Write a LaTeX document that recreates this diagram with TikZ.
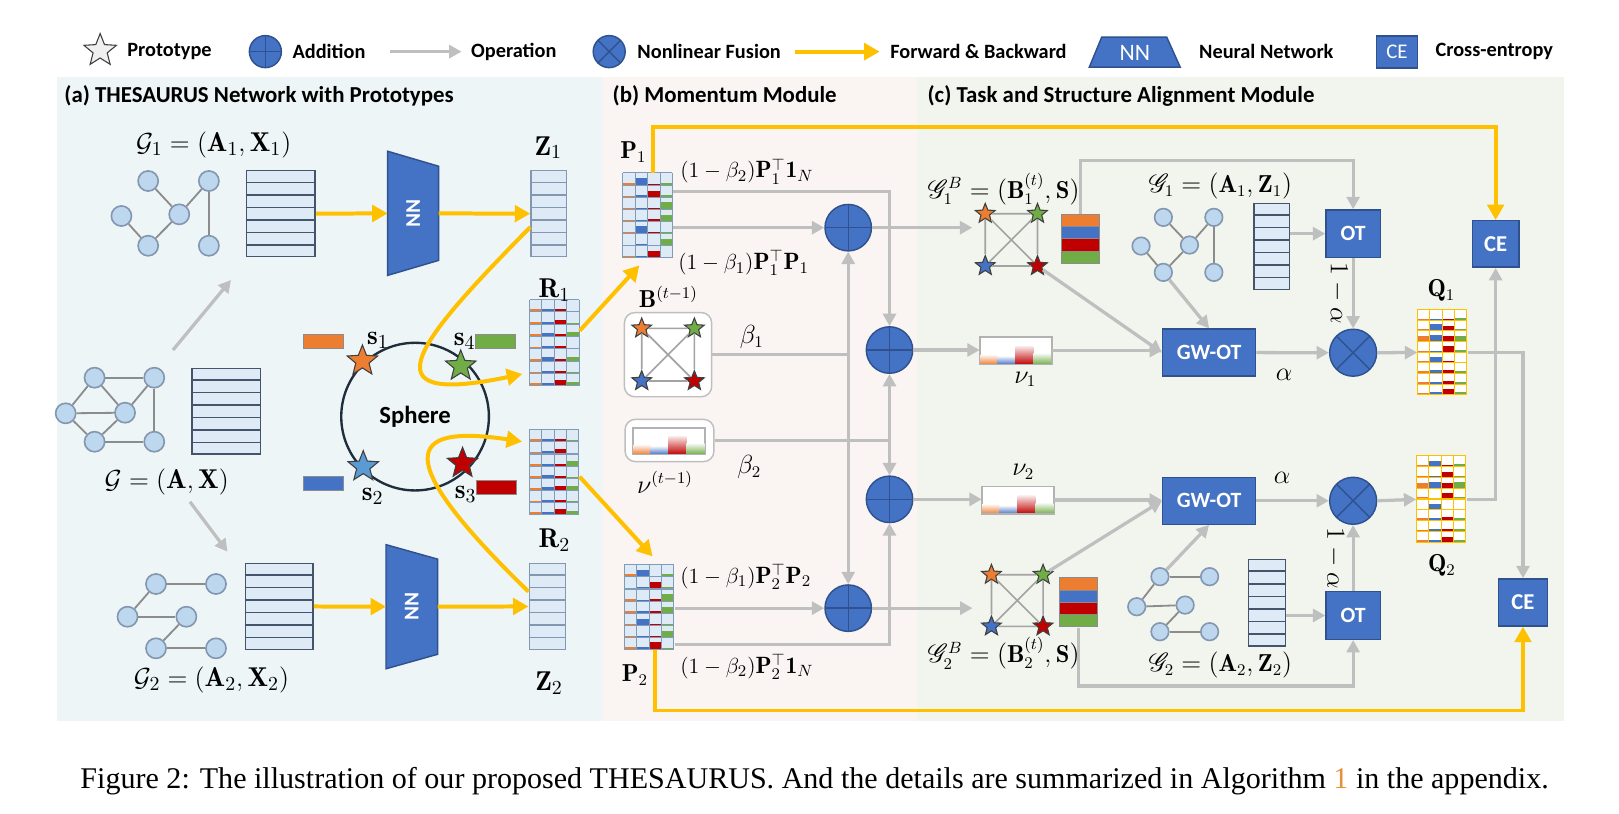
\documentclass[tikz,border=0pt]{standalone}
\usepackage{fontspec}
\setsansfont{Carlito}
\newfontfamily\capfont{Liberation Serif}
\usepackage{amsmath}
\usepackage{mathrsfs}
\usepackage{graphicx}
\usetikzlibrary{calc}
\usetikzlibrary{shapes.geometric}
\usetikzlibrary{arrows.meta}

\definecolor{bgA}{HTML}{EDF5F7}
\definecolor{bgB}{HTML}{FAF4F3}
\definecolor{bgC}{HTML}{F1F5EE}
\definecolor{nnblue}{HTML}{4472C4}
\definecolor{nnedge}{HTML}{2F528F}
\definecolor{opgray}{HTML}{BFBFBF}
\definecolor{fwyellow}{HTML}{FFC000}
\definecolor{porange}{HTML}{ED7D31}
\definecolor{pblue}{HTML}{4472C4}
\definecolor{pred}{HTML}{C00000}
\definecolor{pgreen}{HTML}{70AD47}
\definecolor{sblue}{HTML}{5B9BD5}
\definecolor{nodefill}{HTML}{BDD7EE}
\definecolor{nodeedge}{HTML}{8497B0}
\definecolor{matfill}{HTML}{DEEBF7}
\definecolor{matline}{HTML}{44546A}
\definecolor{zline}{HTML}{8497B0}
\definecolor{gridblue}{HTML}{7F9DB9}
\definecolor{edgegray}{HTML}{8C8C8C}
\definecolor{spherec}{HTML}{1F2D3D}
\definecolor{capnum}{HTML}{E69138}

\tikzset{
  op/.style={draw=opgray, line width=1.8pt, -{Triangle[length=2.4mm, width=2.5mm]}},
  opline/.style={draw=opgray, line width=1.8pt},
  fwd/.style={draw=fwyellow, line width=2.2pt, -{Triangle[length=3mm, width=3.2mm]}},
  fwdline/.style={draw=fwyellow, line width=2.2pt},
  addop/.style={circle, draw=nnedge, fill=nnblue, line width=0.8pt, minimum size=9mm, inner sep=0pt,
    path picture={\draw[nnedge, line width=0.8pt] (path picture bounding box.north) -- (path picture bounding box.south)
      (path picture bounding box.west) -- (path picture bounding box.east);}},
  fuseop/.style={circle, draw=nnedge, fill=nnblue, line width=0.8pt, minimum size=9.1mm, inner sep=0pt,
    path picture={\draw[nnedge, line width=0.8pt] (path picture bounding box.north west) -- (path picture bounding box.south east)
      (path picture bounding box.north east) -- (path picture bounding box.south west);}},
  bluebox/.style={draw=nnedge, fill=nnblue, line width=0.8pt, text=white, inner sep=0pt,
    font=\sffamily\bfseries\fontsize{12}{14}\selectfont},
  nnbox/.style={draw=nnedge, fill=nnblue, line width=0.8pt},
  nntext/.style={text=white, font=\sffamily\bfseries\fontsize{11.6}{13}\selectfont, inner sep=0pt},
  proto/.style={star, star points=5, star point ratio=2.3, draw=black!75, line width=0.6pt, inner sep=0pt, minimum size=#1},
  gnode/.style={circle, draw=nodeedge, fill=nodefill, line width=0.9pt, inner sep=0pt, minimum size=3.9mm},
  gedge/.style={draw=edgegray, line width=1pt},
  sqedge/.style={draw=edgegray!80, line width=0.9pt},
  featbox/.style={draw=matline, fill=matfill, line width=0.8pt, inner sep=0pt},
  zbox/.style={draw=zline, fill=matfill, line width=0.8pt, inner sep=0pt},
  softbox/.style={draw=black!25, fill=white!96!bgB, rounded corners=2mm, line width=0.8pt, inner sep=0pt},
  nuframe/.style={draw=black!30, fill=white, line width=0.6pt, inner sep=0pt},
  colbar/.style={draw=black!45, line width=0.5pt, inner sep=0pt, minimum width=7.8mm, minimum height=2.7mm},
  legtext/.style={font=\sffamily\bfseries\fontsize{11.2}{13}\selectfont, inner sep=0pt},
  titletext/.style={font=\sffamily\bfseries\fontsize{12.6}{15}\selectfont, inner sep=0pt},
  mla/.style={font=\fontsize{15}{18}\selectfont, inner sep=0pt},
  mlb/.style={font=\fontsize{13.5}{16}\selectfont, inner sep=0pt},
  mlc/.style={font=\fontsize{13}{15.5}\selectfont, inner sep=0pt},
}

% row lines of a feature matrix
\newcommand{\hlines}[3]{%
  \pgfmathtruncatemacro\nlast{#2-1}
  \foreach \i in {1,...,\nlast}
    \draw[#3, line width=0.8pt] ($(#1.north west)!\i/#2!(#1.south west)$) -- ($(#1.north east)!\i/#2!(#1.south east)$);}

% assignment matrix: name, centre, rows, row height, cell fill, grid colour, bars
\newcommand{\cmat}[7]{%
  \node[inner sep=0pt, minimum width=9.6mm, minimum height=#3*#4*0.2mm] (#1) at #2 {};
  \begin{scope}[shift={(#1.north west)}]
    \foreach \qa/\qb/\qc/\qd [count=\k from 1] in {#7} {
      \fill[#5] (0,\k*#4-#4) rectangle (48,\k*#4);
      \fill[porange] (0,\k*#4) rectangle (12,\k*#4-\qa*#4);
      \fill[pblue] (12,\k*#4) rectangle (24,\k*#4-\qb*#4);
      \fill[pred] (24,\k*#4) rectangle (36,\k*#4-\qc*#4);
      \fill[pgreen] (36,\k*#4) rectangle (48,\k*#4-\qd*#4);
    }
    \foreach \j in {0,12,24,36,48} \draw[#6, line width=0.6pt] (\j,0) -- (\j,#3*#4);
    \foreach \k in {0,...,#3} \draw[#6, line width=0.6pt] (0,\k*#4) -- (48,\k*#4);
  \end{scope}}

% prototypes on a square
\newcommand{\protosq}[4]{%
  \node[proto=4mm, fill=porange] (#1o) at (#2-#4,#3-#4) {};
  \node[proto=4mm, fill=pgreen] (#1g) at (#2+#4,#3-#4) {};
  \node[proto=4mm, fill=pblue] (#1b) at (#2-#4,#3+#4) {};
  \node[proto=4mm, fill=pred] (#1r) at (#2+#4,#3+#4) {};
  \draw[sqedge] (#1o) -- (#1g) -- (#1r) -- (#1b) -- (#1o) -- (#1r) (#1g) -- (#1b);}

% faded bars of a prototype distribution
\newcommand{\nubars}[1]{%
  \begin{scope}[shift={(#1.south west)}]
    \foreach \cc/\hh [count=\i from 0] in {porange/.35, pblue/.3, pred/.68, pgreen/.4}
      \shade[top color=\cc!10, middle color=\cc!90, bottom color=\cc] (\i*17.3,0) rectangle (\i*17.3+17.3,-\hh*25.9);
  \end{scope}
  \draw[black!30, line width=0.6pt] (#1.south west) rectangle (#1.north east);}

\begin{document}
\begin{tikzpicture}[x=0.2mm, y=-0.2mm]
  \useasboundingbox (0,0) rectangle (1568,788);
  \fill[white] (0,0) rectangle (1568,788);

  % Legend
  \node[proto=6.6mm, fill=gray!12] (lgstar) at (97,49) {};
  \node[legtext, anchor=west] (lgproto) at (123,50) {Prototype};
  \node[addop, minimum size=6.2mm] (lgadd) at (257,50) {};
  \node[legtext, anchor=west] (lgaddt) at (283,50) {Addition};
  \coordinate (lgop1) at (378,50);
  \coordinate (lgop2) at (447,50);
  \draw[op] (lgop1) -- (lgop2);
  \node[legtext, anchor=west] (lgopt) at (456,50) {Operation};
  \node[fuseop, minimum size=6.2mm] (lgfuse) at (590,50) {};
  \node[legtext, anchor=west] (lgfuset) at (617,50) {Nonlinear Fusion};
  \coordinate (lgfw1) at (770,50);
  \coordinate (lgfw2) at (852,50);
  \draw[fwd] (lgfw1) -- (lgfw2);
  \node[legtext, anchor=west] (lgfwt) at (862,50) {Forward \& Backward};
  \draw[nnbox] (1055,65) -- (1067,36) -- (1130,36) -- (1143,65) -- cycle;
  \node[text=white, font=\sffamily\fontsize{13}{15}\selectfont, inner sep=0pt] (lgnn) at (1099,51) {NN};
  \node[legtext, anchor=west] (lgnnt) at (1161,50) {Neural Network};
  \node[bluebox, font=\sffamily\fontsize{11.5}{13}\selectfont, minimum width=8mm, minimum height=6.2mm] (lgce) at (1353,50.5) {CE};
  \node[legtext, anchor=west] (lgcet) at (1390,50) {Cross-entropy};

  % Panel backgrounds
  \fill[bgA] (55,75) rectangle (583,698);
  \fill[bgB] (583,75) rectangle (888,698);
  \fill[bgC] (888,75) rectangle (1515,698);
  \node[titletext, anchor=west] (ttla) at (62,93) {(a) THESAURUS Network with Prototypes};
  \node[titletext, anchor=west] (ttlb) at (593,93) {(b) Momentum Module};
  \node[titletext, anchor=west] (ttlc) at (898,93) {(c) Task and Structure Alignment Module};

  % (a) first view
  \node[mla] (lgr1) at (207,140) {$\mathcal{G}_1=(\mathbf{A}_1,\mathbf{X}_1)$};
  \foreach \n/\x/\y in {a/143.5/175.3, b/202.3/175.3, c/117.6/209.2, d/173.6/207.6, e/143.5/238, f/202.3/238}
    \node[gnode] (gr1\n) at (\x,\y) {};
  \foreach \u/\v in {a/d, d/b, c/e, e/d, b/f}
    \draw[gedge] (gr1\u) -- (gr1\v);
  \node[featbox, minimum width=13.3mm, minimum height=16.66mm] (x1) at (271.9,207) {};
  \hlines{x1}{7}{matline}
  \node[inner sep=0pt, minimum width=9.72mm, minimum height=23.9mm] (nn1) at (400.1,206.6) {};
  \draw[nnbox] (nn1.north west) -- ($(nn1.north east)+(0,14.5)$) -- ($(nn1.south east)+(0,-14.5)$) -- (nn1.south west) -- cycle;
  \node[nntext, rotate=-90] (nn1t) at (nn1) {NN};
  \node[zbox, minimum width=6.9mm, minimum height=16.66mm] (z1) at (531.5,207) {};
  \hlines{z1}{7}{zline}
  \node[mla] (lz1) at (531,143) {$\mathbf{Z}_1$};
  \draw[fwd] (x1) -- (nn1);
  \draw[fwd] (nn1) -- (z1);

  % (a) original graph
  \foreach \n/\x/\y in {a/91.6/365.8, b/149.4/365.8, c/63.6/400.3, d/121.1/399.7, e/91.6/427.8, f/149.4/427.8}
    \node[gnode] (gr0\n) at (\x,\y) {};
  \foreach \u/\v in {a/b, a/c, a/d, b/d, b/f, c/d, c/e, e/d, e/f}
    \draw[gedge] (gr0\u) -- (gr0\v);
  \node[featbox, minimum width=13.3mm, minimum height=16.6mm] (x0) at (219,398.2) {};
  \hlines{x0}{7}{matline}
  \node[mla] (lgr0) at (161.5,466.5) {$\mathcal{G}=(\mathbf{A},\mathbf{X})$};
  \coordinate (aug1s) at (167.5,339);
  \coordinate (aug1e) at (223.7,271.2);
  \draw[op] (aug1s) -- (aug1e);
  \coordinate (aug2s) at (184,486);
  \coordinate (aug2e) at (220.3,534.3);
  \draw[op] (aug2s) -- (aug2e);

  % (a) second view
  \foreach \n/\x/\y in {a/151.1/565.6, b/209.2/565.6, c/123.5/597.3, d/180.5/597.3, e/151.1/627.9, f/209.2/627.9}
    \node[gnode] (gr2\n) at (\x,\y) {};
  \foreach \u/\v in {a/b, a/c, c/d, d/e, e/f}
    \draw[gedge] (gr2\u) -- (gr2\v);
  \node[featbox, minimum width=13.14mm, minimum height=16.66mm] (x2) at (270.5,587.3) {};
  \hlines{x2}{7}{matline}
  \node[mla] (lgr2) at (204.8,658.6) {$\mathcal{G}_2=(\mathbf{A}_2,\mathbf{X}_2)$};
  \node[inner sep=0pt, minimum width=9.84mm, minimum height=23.9mm] (nn2) at (398.8,587.6) {};
  \draw[nnbox] (nn2.north west) -- ($(nn2.north east)+(0,14)$) -- ($(nn2.south east)+(0,-14)$) -- (nn2.south west) -- cycle;
  \node[nntext, rotate=-90] (nn2t) at (nn2) {NN};
  \node[zbox, minimum width=7.06mm, minimum height=16.66mm] (z2) at (530.2,587.3) {};
  \hlines{z2}{7}{zline}
  \node[mla] (lz2) at (531.7,661.8) {$\mathbf{Z}_2$};
  \draw[fwd] (x2) -- (nn2);
  \draw[fwd] (nn2) -- (z2);

  % (a) prototypes on the sphere
  \node[circle, draw=spherec, line width=1.3pt, minimum size=28.6mm, inner sep=0pt,
    font=\sffamily\bfseries\fontsize{13.6}{16}\selectfont] (sphere) at (402,403.5) {Sphere};
  \node[proto=6.2mm, fill=porange] (s1) at (351,349.6) {};
  \node[proto=6.2mm, fill=pgreen] (s4) at (446.2,354.5) {};
  \node[proto=6.2mm, fill=sblue] (s2) at (351.8,452) {};
  \node[proto=6.2mm, fill=pred] (s3) at (448,448.7) {};
  \node[mla] (ls1) at (366,330) {$\mathbf{s}_1$};
  \node[mla] (ls4) at (450,331) {$\mathbf{s}_4$};
  \node[mla] (ls2) at (361,481) {$\mathbf{s}_2$};
  \node[mla] (ls3) at (451,479) {$\mathbf{s}_3$};
  \node[colbar, fill=porange] (cb1) at (313.4,330.6) {};
  \node[colbar, fill=pgreen] (cb4) at (480.1,330.6) {};
  \node[colbar, fill=pblue] (cb2) at (313.4,468.5) {};
  \node[colbar, fill=pred] (cb3) at (480.5,472.5) {};

  % (a) prototype assignments
  \cmat{r1}{(537.2,332.2)}{7}{11.9}{matfill}{gridblue}{.2/.2/.2/.1, .15/.2/.35/.1, .2/.25/.2/.35, .15/.2/.25/.1, .2/.3/.2/.35, .15/.2/.2/.1, .2/.25/.45/.3}
  \node[mla] (lr1) at (537,281) {$\mathbf{R}_1$};
  \cmat{r2}{(537,457.7)}{7}{11.76}{matfill}{gridblue}{.2/.2/.2/.15, .15/.25/.4/.1, .2/.2/.2/.4, .15/.3/.2/.1, .2/.25/.35/.35, .15/.2/.2/.1, .2/.2/.45/.3}
  \node[mla] (lr2) at (537,523) {$\mathbf{R}_2$};
  \draw[fwd] ($(z1.west)+(0,13)$) .. controls (405,330) and (350,395) .. ($(r1.west)+(-7,30)$);
  \draw[fwd] ($(z2.west)+(0,-14.3)$) .. controls (380,445) and (390,410) .. ($(r2.west)+(-7,-30)$);

  % (b) momentum module
  \cmat{p1}{(627.6,209)}{7}{11.76}{matfill}{gridblue}{.15/.55/.1/.15, .1/.2/.55/.15, .15/.1/.15/.6, .1/.15/.2/.55, .15/.6/.1/.15, .1/.15/.1/.55, .15/.2/.6/.1}
  \node[mlb] (lp1) at (613.4,146.9) {$\mathbf{P}_1$};
  \cmat{p2}{(629,588.4)}{7}{11.76}{matfill}{gridblue}{.2/.55/.1/.25, .1/.15/.55/.15, .15/.1/.15/.6, .2/.15/.2/.55, .15/.55/.1/.15, .1/.15/.1/.55, .2/.2/.6/.1}
  \node[mlb] (lp2) at (615,653.8) {$\mathbf{P}_2$};
  \draw[fwd] ($(r1.east)+(0,-12)$) -- ($(p1.south west)+(16,6.5)$);
  \draw[fwd] ($(r2.east)+(0,4)$) -- ($(p2.north)+(3,-8)$);

  \node[mlc, anchor=west] (lp1a) at (658.6,166) {$(1-\beta_2)\mathbf{P}_1^{\top}\mathbf{1}_N$};
  \node[mlc, anchor=west] (lp1b) at (656.6,255) {$(1-\beta_1)\mathbf{P}_1^{\top}\mathbf{P}_1$};
  \node[mlc, anchor=west] (lp2b) at (658.6,558.5) {$(1-\beta_1)\mathbf{P}_2^{\top}\mathbf{P}_2$};
  \node[mlc, anchor=west] (lp2a) at (658.6,645.7) {$(1-\beta_2)\mathbf{P}_2^{\top}\mathbf{1}_N$};

  \node[softbox, minimum width=16.9mm, minimum height=16.3mm] (bbox) at (647,343.5) {};
  \protosq{bb}{647}{343.5}{25.5}
  \node[mlb] (lbprev) at (647.3,287.3) {$\mathbf{B}^{(t-1)}$};
  \node[softbox, minimum width=17.2mm, minimum height=8.2mm] (nubox) at (648.4,426.6) {};
  \node[nuframe, minimum width=13.88mm, minimum height=4.98mm] (nuprev) at (648.1,427.25) {};
  \nubars{nuprev}
  \node[mlb] (lnuprev) at (644,467) {$\nu^{(t-1)}$};
  \node[mlb] (lbeta1) at (728,326) {$\beta_1$};
  \node[mlb] (lbeta2) at (725.7,452) {$\beta_2$};

  \node[addop] (add1) at (821.5,220.5) {};
  \node[addop] (add2) at (861.5,339) {};
  \node[addop] (add3) at (861.5,483.6) {};
  \node[addop] (add4) at (821.5,589) {};

  \draw[op] ($(p1.east)+(0,-23.4)$) -| (add2.north);
  \draw[op] ($(p1.east)+(0,11.5)$) -- (add1.west);
  \coordinate (j1) at (add1 |- bbox.east);
  \draw[opline] (bbox.east) -- (j1);
  \draw[op] (j1) -- (add1.south);
  \draw[op] (j1) -- (add4.north);
  \coordinate (j2) at (add2 |- nubox.east);
  \draw[opline] (nubox.east) -- (j2);
  \draw[op] (j2) -- (add2.south);
  \draw[op] (j2) -- (add3.north);
  \draw[op] (p2.east |- add4) -- (add4.west);
  \draw[op] ($(p2.east)+(0,35.6)$) -| (add3.south);

  % (c) first branch
  \node[inner sep=0pt, minimum width=15mm, minimum height=12mm] (g1b) at (979.5,232.3) {};
  \protosq{gbo}{979.5}{232.3}{25.3}
  \node[mlb] (lg1b) at (972,183) {$\mathscr{G}_1^B=(\mathbf{B}_1^{(t)},\mathbf{S})$};
  \node[inner sep=0pt, minimum width=7.1mm, minimum height=9.62mm] (stk1) at (1046.5,231.7) {};
  \foreach \cc [count=\i from 0] in {porange,pblue,pred,pgreen}
    \draw[fill=\cc, draw=black!45, line width=0.5pt] ($(stk1.north west)+(0,\i*12)$) rectangle ($(stk1.north east)+(0,\i*12+12)$);
  \foreach \n/\x/\y in {a/1126.7/210.5, b/1175.6/210.5, c/1105.1/238.3, d/1152/237.3, e/1126.7/263.8, f/1175.6/263.8}
    \node[gnode, minimum size=3.4mm] (gc1\n) at (\x,\y) {};
  \foreach \u/\v in {a/d, d/b, c/e, e/d, b/f}
    \draw[gedge] (gc1\u) -- (gc1\v);
  \node[mlb] (lgc1) at (1182,180) {$\mathscr{G}_1=(\mathbf{A}_1,\mathbf{Z}_1)$};
  \node[featbox, minimum width=6.92mm, minimum height=16.64mm] (zc1) at (1231.6,238.6) {};
  \hlines{zc1}{7}{matline}
  \node[bluebox, minimum width=10.5mm, minimum height=9.2mm] (ot1) at (1310.5,226.3) {OT};
  \node[fuseop] (fuse1) at (1310.5,341.6) {};
  \node[bluebox, minimum width=18mm, minimum height=9.1mm] (gw1) at (1171,341.5) {GW-OT};
  \node[nuframe, minimum width=13.84mm, minimum height=5.18mm] (nu1) at (984,339.6) {};
  \nubars{nu1}
  \node[mlb] (lnu1) at (993,367.4) {$\nu_1$};
  \node[mlb] (lal1) at (1243.6,363.2) {$\alpha$};
  \node[mlb, rotate=-90] (loma1) at (1296,284) {$1-\alpha$};
  \cmat{q1}{(1397,341.4)}{8}{10.3}{white}{fwyellow}{.15/.1/.1/.2, .2/.6/.5/.15, .5/.6/.5/.55, .1/.1/.55/.2, .15/.55/.2/.1, .2/.3/.3/.25, .15/.2/.3/.2, .2/.25/.5/.25}
  \node[mlb] (lq1) at (1396,281.5) {$\mathbf{Q}_1$};

  \draw[op] (add1.east) -- (g1b.west |- add1);
  \draw[op] (stk1.north) -- ++(0,-52) -| (ot1.north);
  \draw[op] (zc1.east |- ot1) -- (ot1.west);
  \draw[op] (ot1.south) -- (fuse1.north);
  \draw[op] (add2.east) -- (nu1.west |- add2);
  \draw[op] (nu1.east) -- (gw1.west |- nu1);
  \draw[op] (gbor) -- (gw1.west);
  \draw[op] (gc1e) -- (gw1.north);
  \draw[op] (gw1.east) -- (fuse1.west);
  \draw[op] (fuse1.east) -- (q1.west);

  % (c) second branch
  \node[inner sep=0pt, minimum width=17.2mm, minimum height=12mm] (g2b) at (985.2,581.6) {};
  \protosq{gbt}{985.2}{581.6}{25}
  \node[mlb] (lg2b) at (972,632.8) {$\mathscr{G}_2^B=(\mathbf{B}_2^{(t)},\mathbf{S})$};
  \node[inner sep=0pt, minimum width=7.1mm, minimum height=9.5mm] (stk2) at (1044.5,583.8) {};
  \foreach \cc [count=\i from 0] in {porange,pblue,pred,pgreen}
    \draw[fill=\cc, draw=black!45, line width=0.5pt] ($(stk2.north west)+(0,\i*11.875)$) rectangle ($(stk2.north east)+(0,\i*11.875+11.875)$);
  \foreach \n/\x/\y in {a/1123.4/558.5, b/1171.5/558.5, c/1100.9/587.6, d/1147.8/586, e/1123.4/611.8, f/1171.5/611.8}
    \node[gnode, minimum size=3.4mm] (gc2\n) at (\x,\y) {};
  \foreach \u/\v in {a/b, a/c, c/d, d/e, e/f}
    \draw[gedge] (gc2\u) -- (gc2\v);
  \node[mlb] (lgc2) at (1182,644) {$\mathscr{G}_2=(\mathbf{A}_2,\mathbf{Z}_2)$};
  \node[featbox, minimum width=7.16mm, minimum height=16.8mm] (zc2) at (1226.9,583.7) {};
  \hlines{zc2}{7}{matline}
  \node[bluebox, minimum width=10.5mm, minimum height=9.2mm] (ot2) at (1310.5,596.1) {OT};
  \node[fuseop] (fuse2) at (1310.5,485) {};
  \node[bluebox, minimum width=18mm, minimum height=9.1mm] (gw2) at (1171,485) {GW-OT};
  \node[nuframe, minimum width=13.84mm, minimum height=5.18mm] (nu2) at (986,484.3) {};
  \nubars{nu2}
  \node[mlb] (lnu2) at (991,456.8) {$\nu_2$};
  \node[mlb] (lal2) at (1241.7,463.3) {$\alpha$};
  \node[mlb, rotate=-90] (loma2) at (1292.6,540.7) {$1-\alpha$};
  \cmat{q2}{(1396,483.6)}{8}{10.5}{white}{fwyellow}{.15/.5/.1/.2, .1/.1/.5/.15, .5/.55/.5/.55, .15/.1/.55/.2, .1/.55/.1/.1, .2/.2/.3/.25, .15/.2/.2/.2, .2/.2/.5/.25}
  \node[mlb] (lq2) at (1396.5,547.2) {$\mathbf{Q}_2$};

  \draw[op] (add4.east) -- (g2b.west |- add4);
  \draw[op] (stk2.south) -- ++(0,56.5) -| (ot2.south);
  \draw[op] (zc2.east |- ot2) -- (ot2.west);
  \draw[op] (ot2.north) -- (fuse2.south);
  \draw[op] (add3.east) -- (nu2.west |- add3);
  \draw[op] (nu2.east) -- (gw2.west |- nu2);
  \draw[op] (gbtg) -- (gw2.west);
  \draw[op] (gc2a) -- (gw2.south);
  \draw[op] (gw2.east) -- (fuse2.west);
  \draw[op] (fuse2.east) -- (q2.west);

  % cross-entropy heads
  \node[bluebox, font=\sffamily\bfseries\fontsize{12.5}{14}\selectfont, minimum width=9mm, minimum height=9mm] (ce1) at (1448.5,236.3) {CE};
  \node[bluebox, font=\sffamily\bfseries\fontsize{12.5}{14}\selectfont, minimum width=9.4mm, minimum height=9.1mm] (ce2) at (1475,583.5) {CE};
  \draw[op] (q1.east) -| (ce2.north);
  \draw[op] (q2.east) -| (ce1.south);
  \draw[fwd] ($(p1.north)+(5.2,0)$) -- ++(0,-44.6) -| (ce1.north);
  \draw[fwd] ($(p2.south)+(5.4,0)$) -- ++(0,58.2) -| (ce2.south);

  % caption
  \node[font=\capfont, inner sep=0pt] (cap) at (789,757) {\resizebox{284.4mm}{!}{Figure 2: The illustration of our proposed THESAURUS. And the details are summarized in Algorithm {\color{capnum}1} in the appendix.}};
\end{tikzpicture}
\end{document}
